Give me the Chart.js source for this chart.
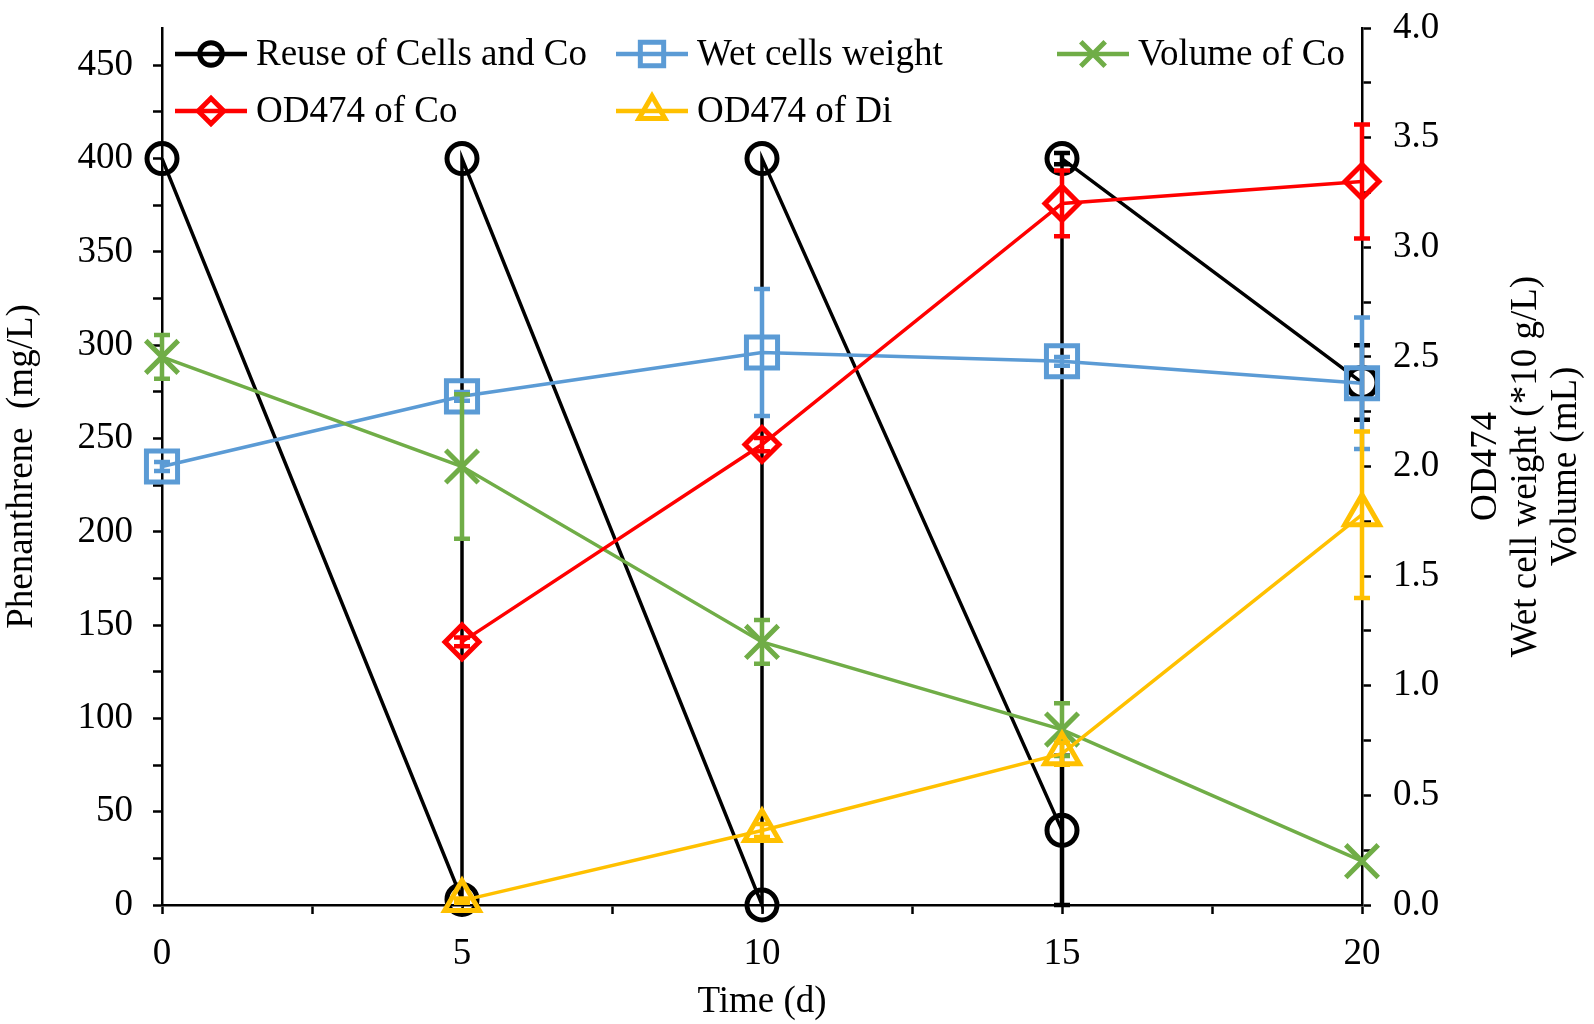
<!DOCTYPE html>
<html>
<head>
<meta charset="utf-8">
<script src="https://cdn.jsdelivr.net/npm/chart.js@4/dist/chart.umd.min.js"></script>
<style>
html, body { margin: 0; padding: 0; background: #fff; }
#wrap { width: 1594px; height: 1024px; position: relative; }
</style>
</head>
<body>
<div id="wrap"><canvas id="chart"></canvas></div>
<script>
'use strict';

//axis ticks (minor ticks carry no label)
const timeTicks = [0, 2.5, 5, 7.5, 10, 12.5, 15, 17.5, 20];
const phenTicks = [0, 25, 50, 75, 100, 125, 150, 175, 200, 225, 250, 275, 300, 325, 350, 375, 400, 425, 450];
const rightTicks = [0, 0.25, 0.5, 0.75, 1.0, 1.25, 1.5, 1.75, 2.0, 2.25, 2.5, 2.75, 3.0, 3.25, 3.5, 3.75, 4.0];

//Reuse of Cells and Co, phenanthrene mg/L (drops back to 400 at each reuse)
const reuseDays = [0, 5, 5, 10, 10, 15, 15, 20];
const reuseValues = [400, 3, 400, 0, 400, 40, 400, 280];
const reuseErrors = [0, 0, 0, 0, 0, 40, 3, 20];

//right axis series
const days = [0, 5, 10, 15, 20];
const wetValues = [2.00, 2.32, 2.52, 2.48, 2.38];
const wetErrors = [0.02, 0.02, 0.29, 0.02, 0.30];

const volValues = [2.50, 2.00, 1.20, 0.80, 0.20];
const volErrors = [0.10, 0.33, 0.10, 0.12, 0];

const odDays = [5, 10, 15, 20];
const odCoValues = [1.20, 2.10, 3.20, 3.30];
const odCoErrors = [0.02, 0.03, 0.15, 0.26];
const odDiValues = [0.02, 0.34, 0.69, 1.78];
const odDiErrors = [0.01, 0.03, 0.05, 0.38];

const FONT = 'Liberation Serif, Times New Roman, serif';
const FONT_SIZE = 37;

function toPoints(xs, ys) {
	return xs.map((x, i) => ({x: x, y: ys[i]}));
}

function series(label, xs, ys, errs, axis, colour, style, radius, order, legend) {
	return {
		label: label,
		data: toPoints(xs, ys),
		errors: errs,
		yAxisID: axis,
		borderColor: colour,
		borderWidth: 3.5,
		pointStyle: style,
		pointRadius: radius,
		pointHoverRadius: radius,
		pointBorderWidth: 5,
		pointBorderColor: colour,
		pointBackgroundColor: 'rgba(0,0,0,0)',
		tension: 0,
		clip: false,
		order: order,
		legendPos: legend
	};
}

const datasets = [
	series('Reuse of Cells and Co', reuseDays, reuseValues, reuseErrors, 'y', '#000000', 'circle', 15, 5, [0, 0]),
	series('Wet cells weight', days, wetValues, wetErrors, 'y2', '#5B9BD5', 'rect', 22, 4, [1, 0]),
	series('Volume of Co', days, volValues, volErrors, 'y2', '#70AD47', 'crossRot', 23, 3, [2, 0]),
	series('OD474 of Co', odDays, odCoValues, odCoErrors, 'y2', '#FF0000', 'rectRot', 17, 2, [0, 1]),
	series('OD474 of Di', odDays, odDiValues, odDiErrors, 'y2', '#FFC000', 'triangle', 20, 1, [1, 1])
];

//vertical error bars with caps, drawn right after their own dataset
const errorBars = {
	id: 'errorBars',
	afterDatasetDraw(chart, args) {
		const ds = chart.data.datasets[args.index];
		if (!ds.errors) {
			return;
		}
		const {ctx} = chart;
		const xs = chart.scales.x, ys = chart.scales[ds.yAxisID];
		ctx.save();
		ctx.strokeStyle = ds.borderColor;
		ctx.lineWidth = 4.5;
		ds.data.forEach((pt, i) => {
			const err = ds.errors[i];
			if (!err) {
				return;
			}
			const x = xs.getPixelForValue(pt.x);
			const top = ys.getPixelForValue(pt.y + err), bot = ys.getPixelForValue(pt.y - err);
			ctx.beginPath();
			ctx.moveTo(x, top);
			ctx.lineTo(x, bot);
			ctx.moveTo(x - 8, top);
			ctx.lineTo(x + 8, top);
			ctx.moveTo(x - 8, bot);
			ctx.lineTo(x + 8, bot);
			ctx.stroke();
		});
		ctx.restore();
	}
};

//excel style legend: 3 columns x 2 rows inside the top of the plot
const gridLegend = {
	id: 'gridLegend',
	afterDraw(chart) {
		const {ctx, chartArea} = chart;
		const colX = [chartArea.left + 13, chartArea.left + 454, chartArea.left + 895];
		const rowY = [chartArea.top + 26, chartArea.top + 83];
		ctx.save();
		ctx.font = FONT_SIZE + 'px ' + FONT;
		ctx.textBaseline = 'middle';
		for (const ds of chart.data.datasets) {
			const x = colX[ds.legendPos[0]], y = rowY[ds.legendPos[1]];
			ctx.strokeStyle = ds.borderColor;
			ctx.lineWidth = 4.5;
			ctx.beginPath();
			ctx.moveTo(x, y);
			ctx.lineTo(x + 72, y);
			ctx.stroke();
			ctx.lineWidth = 5;
			ctx.fillStyle = 'rgba(0,0,0,0)';
			Chart.helpers.drawPoint(ctx, {
				pointStyle: ds.pointStyle,
				radius: ds.pointRadius * 0.75,
				borderWidth: 5,
				rotation: 0
			}, x + 36, y);
			ctx.fillStyle = '#000';
			ctx.fillText(ds.label, x + 81, y + 1);
		}
		ctx.restore();
	}
};

//right axis title, three lines reading bottom to top
const rightTitle = {
	id: 'rightTitle',
	afterDraw(chart) {
		const {ctx, chartArea} = chart;
		const lines = ['OD474', 'Wet cell weight (*10 g/L)', 'Volume (mL)'];
		const cy = (chartArea.top + chartArea.bottom) / 2;
		ctx.save();
		ctx.font = FONT_SIZE + 'px ' + FONT;
		ctx.fillStyle = '#000';
		ctx.textAlign = 'center';
		ctx.textBaseline = 'middle';
		lines.forEach((text, i) => {
			ctx.save();
			ctx.translate(chartArea.right + 124 + i * 40, cy);
			ctx.rotate(-Math.PI / 2);
			ctx.fillText(text, 0, 0);
			ctx.restore();
		});
		ctx.restore();
	}
};

function axisLook() {
	return {
		grid: {
			drawOnChartArea: false,
			drawTicks: true,
			tickLength: 9,
			tickWidth: 2.5,
			tickColor: '#000'
		},
		border: {
			display: true,
			color: '#000',
			width: 2.5
		}
	};
}

function fixedTicks(values) {
	return axis => {
		axis.ticks = values.map(v => ({value: v}));
	};
}

//pin the axis box sizes so the plot area matches the original
function fixedWidth(w) {
	return scale => {
		scale.width = w;
		scale.paddingTop = 0;
		scale.paddingBottom = 0;
	};
}

new Chart(document.getElementById('chart'), {
	type: 'line',
	data: {datasets: datasets},
	options: {
		responsive: true,
		maintainAspectRatio: false,
		animation: false,
		layout: {padding: {top: 22, left: 0, right: 0, bottom: 0}},
		plugins: {
			legend: {display: false},
			tooltip: {enabled: false}
		},
		scales: {
			x: {
				type: 'linear',
				min: 0,
				max: 20,
				...axisLook(),
				afterBuildTicks: fixedTicks(timeTicks),
				afterFit: scale => {
					scale.height = 119;
					scale.paddingLeft = 0;
					scale.paddingRight = 0;
				},
				ticks: {
					autoSkip: false,
					maxRotation: 0,
					padding: 18,
					color: '#000',
					font: {family: FONT, size: FONT_SIZE},
					callback: v => (v % 5 === 0 ? String(v) : '')
				},
				title: {
					display: true,
					text: 'Time (d)',
					color: '#000',
					font: {family: FONT, size: FONT_SIZE},
					padding: {top: 0, bottom: 0}
				}
			},
			y: {
				type: 'linear',
				position: 'left',
				min: 0,
				max: 470,
				...axisLook(),
				afterBuildTicks: fixedTicks(phenTicks),
				afterFit: fixedWidth(162),
				ticks: {
					autoSkip: false,
					padding: 20,
					color: '#000',
					font: {family: FONT, size: FONT_SIZE},
					callback: v => (v % 50 === 0 ? String(v) : '')
				},
				title: {
					display: true,
					text: 'Phenanthrene  (mg/L)',
					color: '#000',
					font: {family: FONT, size: FONT_SIZE},
					padding: {top: 0, bottom: 0}
				}
			},
			y2: {
				type: 'linear',
				position: 'right',
				min: 0,
				max: 4,
				...axisLook(),
				afterBuildTicks: fixedTicks(rightTicks),
				afterFit: fixedWidth(232),
				ticks: {
					autoSkip: false,
					padding: 22,
					color: '#000',
					font: {family: FONT, size: FONT_SIZE},
					callback: v => (Math.abs(v * 2 - Math.round(v * 2)) < 1e-9 ? v.toFixed(1) : '')
				}
			}
		}
	},
	plugins: [errorBars, gridLegend, rightTitle]
});
</script>
</body>
</html>
